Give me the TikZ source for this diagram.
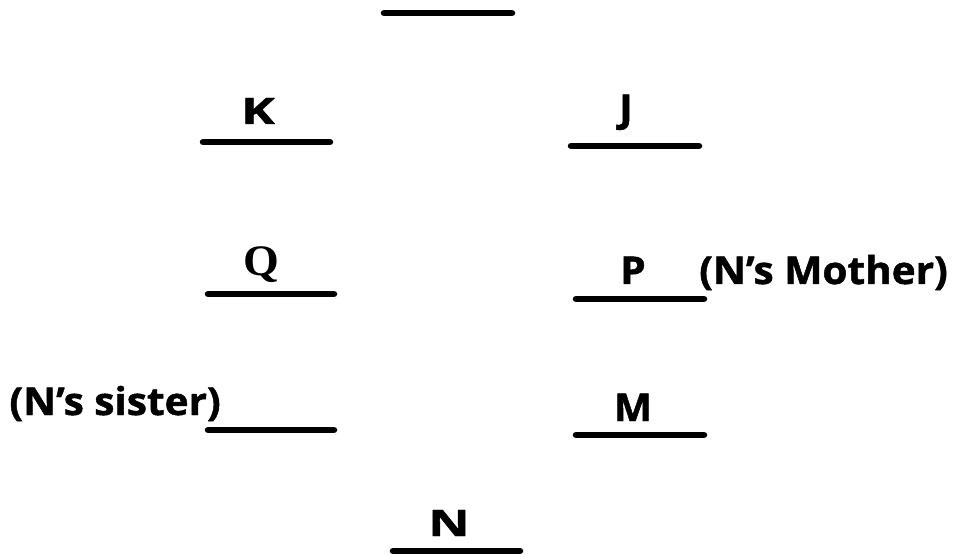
\documentclass[tikz,border=0pt]{standalone}
\usepackage{fontspec}
\setmainfont{Open Sans}[BoldFeatures={FakeBold=1.2}]
\newfontfamily\qfont{Liberation Serif}
\begin{document}
\begin{tikzpicture}[x=1bp,y=-1bp,
  slot/.style={line width=6.5bp,line cap=round},
  lbl/.style={font=\fontsize{37}{42}\selectfont\bfseries,inner sep=0pt,anchor=base,xscale=1.1,yscale=1.04}]
\useasboundingbox (0,0) rectangle (955,557);
\draw[slot] (384,13) -- (512,13);
\draw[slot] (203,142) -- (330,142);
\draw[slot] (571,146) -- (699,146);
\draw[slot] (208,294) -- (334,294);
\draw[slot] (576,299) -- (704,299);
\draw[slot] (208,430) -- (334,430);
\draw[slot] (576,435) -- (704,435);
\draw[slot] (393,551) -- (520,551);
\node[lbl,xscale=1.25,yscale=0.95] (K) at (258,124) {K};
\node[lbl] (J) at (626,122) {J};
\node[lbl,font=\qfont\fontsize{42}{46}\selectfont\bfseries] (Q) at (261,276) {Q};
\node[lbl] (P) at (633,284) {P};
\node[lbl,anchor=base west] (mother) at (699,284) {(N’s Mother)};
\node[lbl,anchor=base east] (sister) at (221,415) {(N’s sister)};
\node[lbl] (M) at (633,421) {M};
\node[lbl,xscale=1.25,yscale=0.95] (N) at (449,536) {N};
\end{tikzpicture}
\end{document}
